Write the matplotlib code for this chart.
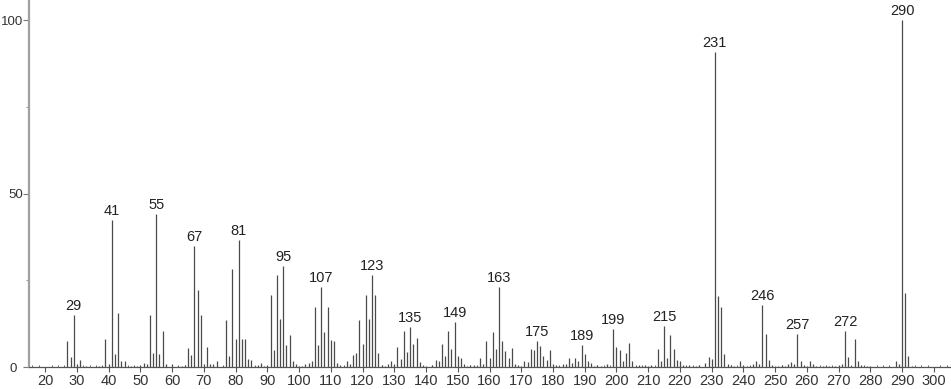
import matplotlib
matplotlib.use("Agg")
import matplotlib.pyplot as plt
from matplotlib.ticker import MultipleLocator, FixedLocator

plt.rcParams['font.family'] = ['Liberation Sans', 'DejaVu Sans']

# m/z values and relative intensities
mz = [27, 28, 29, 30, 31, 33, 37, 38, 39, 40, 41, 42, 43, 44, 45, 47, 48, 49, 50,
      51, 52, 53, 54, 55, 56, 57, 58, 60, 62, 63, 64, 65, 66, 67, 68, 69, 70, 71,
      72, 73, 74, 76, 77, 78, 79, 80, 81, 82, 83, 84, 85, 86, 87, 88, 89, 90, 91,
      92, 93, 94, 95, 96, 97, 98, 99, 100, 101, 102, 103, 104, 105, 106, 107, 108,
      109, 110, 111, 112, 113, 114, 115, 116, 117, 118, 119, 120, 121, 122, 123,
      124, 125, 126, 127, 128, 129, 130, 131, 132, 133, 134, 135, 136, 137, 138,
      139, 140, 142, 143, 144, 145, 146, 147, 148, 149, 150, 151, 152, 153, 154,
      155, 156, 157, 158, 159, 160, 161, 162, 163, 164, 165, 166, 167, 168, 169,
      170, 171, 172, 173, 174, 175, 176, 177, 178, 179, 180, 181, 182, 183, 184,
      185, 186, 187, 188, 189, 190, 191, 192, 193, 194, 195, 197, 199, 200, 201,
      202, 203, 204, 205, 206, 207, 208, 209, 210, 211, 213, 214, 215, 216, 217,
      218, 219, 220, 221, 222, 223, 224, 225, 226, 228, 229, 230, 231, 232, 233,
      234, 235, 236, 237, 239, 240, 241, 242, 243, 244, 245, 246, 247, 248, 249,
      250, 251, 252, 253, 254, 255, 256, 257, 258, 259, 260, 261, 262, 263, 265,
      266, 267, 269, 270, 271, 272, 273, 274, 275, 276, 277, 278, 279, 280, 288,
      289, 290, 291, 292, 293]
intensity = [7.5, 3.0, 15.0, 0.8, 2.0, 0.4, 0.4, 0.4, 8.1, 0.8, 42.4, 3.7, 15.6, 1.7,
             1.6, 0.4, 0.4, 0.4, 0.5, 1.2, 0.9, 15.0, 4.1, 44.0, 3.7, 10.4, 1.0, 0.8,
             0.4, 0.4, 0.5, 5.5, 3.4, 34.9, 22.2, 15.0, 1.0, 5.8, 1.0, 0.8, 1.6, 0.4,
             13.5, 3.1, 28.3, 8.1, 36.6, 8.1, 8.1, 2.2, 2.0, 0.4, 0.5, 1.2, 0.4, 0.5,
             20.8, 4.9, 26.6, 13.9, 29.0, 6.3, 9.2, 1.7, 1.0, 0.4, 0.4, 0.8, 1.1, 1.6,
             17.4, 6.3, 23.0, 10.2, 17.3, 7.7, 7.4, 1.2, 0.5, 0.4, 1.6, 0.9, 3.4, 3.9,
             13.6, 6.5, 20.7, 13.8, 26.6, 20.7, 4.0, 0.5, 0.4, 0.9, 1.8, 0.9, 5.7, 2.2,
             10.4, 4.2, 11.4, 6.6, 8.3, 1.5, 0.5, 0.4, 0.5, 2.0, 1.7, 6.6, 3.3, 10.4,
             5.2, 13.0, 3.2, 2.6, 0.9, 0.4, 0.5, 0.5, 0.4, 2.6, 1.0, 7.5, 2.6, 10.1,
             5.1, 23.0, 7.5, 4.6, 2.7, 5.5, 0.9, 0.5, 0.4, 1.8, 1.3, 5.3, 5.0, 7.5,
             6.1, 3.3, 2.0, 4.8, 0.9, 0.5, 0.4, 0.8, 1.0, 2.6, 1.1, 2.7, 1.8, 6.3, 3.7,
             1.8, 1.1, 0.4, 0.5, 0.4, 0.9, 11.0, 5.7, 5.0, 1.6, 3.9, 6.8, 1.6, 0.4,
             0.5, 0.4, 0.5, 0.4, 0.5, 5.2, 1.6, 11.8, 2.6, 9.3, 5.2, 1.9, 1.7, 0.5,
             0.4, 0.5, 0.4, 0.4, 0.5, 1.1, 2.9, 2.4, 90.9, 20.5, 17.2, 3.7, 0.8, 0.5,
             0.4, 1.7, 0.5, 0.4, 0.4, 1.0, 1.8, 0.8, 17.9, 9.5, 2.0, 0.5, 0.4, 0.4,
             0.5, 0.4, 0.9, 1.3, 0.8, 9.4, 1.8, 0.5, 0.4, 1.6, 0.8, 0.4, 0.4, 0.4,
             0.4, 0.4, 0.5, 0.9, 10.4, 2.9, 0.4, 8.1, 1.7, 0.5, 0.4, 0.4, 0.4, 1.7,
             0.9, 100.0, 21.4, 3.2, 0.3]
labeled = [29, 41, 55, 67, 81, 95, 107, 123, 135, 149, 163, 175, 189, 199, 215,
           231, 246, 257, 272, 290]
xticks = list(range(20, 301, 10))
yticks = [0, 50, 100]

fig = plt.figure(figsize=(9.51, 3.89), dpi=100)
ax = fig.add_axes([29/951, 22/389, 1 - 29/951, 1 - 22/389])

ax.vlines(mz, 0, intensity, colors='#4a4a4a', linewidth=0.9)

lookup = dict(zip(mz, intensity))
for m in labeled:
    ax.annotate(str(m), (m, lookup[m]), xytext=(0, 5), textcoords='offset pixels',
                ha='center', va='baseline', fontsize=10.5, color='#222222')

ax.set_xlim(14.9, 305.4)
ax.set_ylim(0, 105.8)

for s in ['top', 'right']:
    ax.spines[s].set_visible(False)
ax.spines['left'].set_color('#a0a0a0')
ax.spines['left'].set_linewidth(1.6)
ax.spines['bottom'].set_color('#555555')
ax.spines['bottom'].set_linewidth(0.9)

ax.xaxis.set_major_locator(FixedLocator(xticks))
ax.xaxis.set_minor_locator(MultipleLocator(2))
ax.yaxis.set_major_locator(FixedLocator(yticks))
ax.yaxis.set_minor_locator(FixedLocator([25, 75]))

ax.tick_params(axis='x', which='major', direction='out', length=3.5, width=0.8,
               color='#555555', labelsize=10.5, labelcolor='#333333', pad=1.5)
ax.tick_params(axis='x', which='minor', direction='in', length=1.6, width=0.7,
               color='#666666')
ax.tick_params(axis='y', which='major', direction='out', length=4, width=0.8,
               color='#777777', labelsize=9.5, labelcolor='#333333', pad=0.5)
ax.tick_params(axis='y', which='minor', direction='out', length=2, width=0.8,
               color='#999999')

# zero tick on y runs further left like the baseline does
t0 = ax.yaxis.get_major_ticks()[0]
t0.tick1line.set_markersize(10)
t0.set_pad(5)

fig.savefig('out.png', dpi=100)
